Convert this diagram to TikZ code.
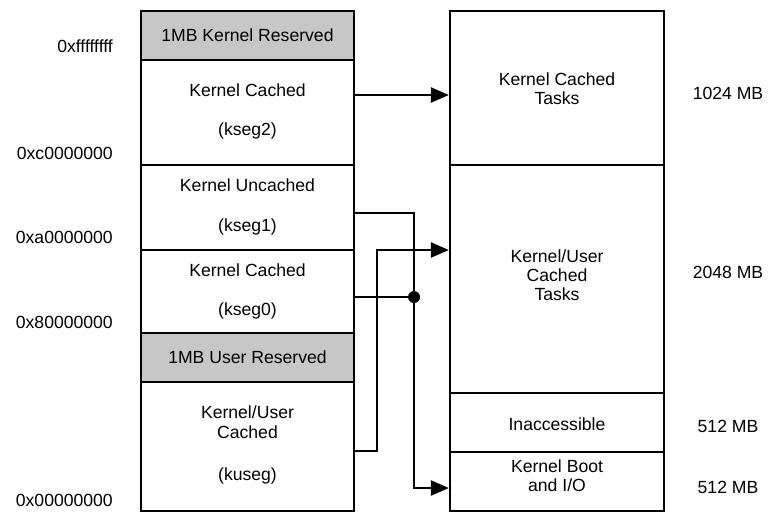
\documentclass[tikz,border=0pt]{standalone}
\usepackage{fontspec}
\setmainfont{Liberation Sans}
\usetikzlibrary{arrows.meta}
\begin{document}
\begin{tikzpicture}[x=1pt,y=-1pt,
  lbox/.style={draw, line width=2.3pt, minimum width=213pt, inner sep=0pt},
  rbox/.style={draw, line width=2.3pt, minimum width=214pt, inner sep=0pt},
  shade/.style={fill=black!22},
  txt/.style={font=\fontsize{17.6}{19}\selectfont, inner sep=0pt, align=center},
  addr/.style={txt, anchor=east},
  conn/.style={line width=2.4pt},
  arr/.style={conn, -{Triangle[length=18pt,width=15pt]}}
]
\useasboundingbox (0,0) rectangle (773,512);
% left column
\node[lbox, shade, minimum height=49pt] (kres) at (247.5,35.5) {};
\node[lbox, minimum height=105pt] (kseg2) at (247.5,112.5) {};
\node[lbox, minimum height=85pt] (kseg1) at (247.5,207.5) {};
\node[lbox, minimum height=83pt] (kseg0) at (247.5,291.5) {};
\node[lbox, shade, minimum height=49pt] (ures) at (247.5,357.5) {};
\node[lbox, minimum height=129pt] (kuseg) at (247.5,446.5) {};
% right column
\node[rbox, minimum height=154pt] (kct) at (557,88) {};
\node[rbox, minimum height=228pt] (kuct) at (557,279) {};
\node[rbox, minimum height=59pt] (inacc) at (557,422.5) {};
\node[rbox, minimum height=59pt] (kboot) at (557,481.5) {};
% left texts
\node[txt] (t1) at (247.5,35) {1MB Kernel Reserved};
\node[txt] (t2) at (247.5,90) {Kernel Cached};
\node[txt] (t3) at (247.5,131) {(kseg2)};
\node[txt] (t4) at (247.5,185) {Kernel Uncached};
\node[txt] (t5) at (247.5,227) {(kseg1)};
\node[txt] (t6) at (247.5,270) {Kernel Cached};
\node[txt] (t7) at (247.5,311) {(kseg0)};
\node[txt] (t8) at (247.5,357) {1MB User Reserved};
\node[txt] (t9) at (247.5,422) {Kernel/User\\[1.5pt]Cached};
\node[txt] (t10) at (247.5,476) {(kuseg)};
% right texts
\node[txt] (r1) at (557,89) {Kernel Cached\\Tasks};
\node[txt] (r2) at (557,275) {Kernel/User\\Cached\\Tasks};
\node[txt] (r3) at (557,424) {Inaccessible};
\node[txt] (r4) at (557,476) {Kernel Boot\\and I/O};
% sizes
\node[txt] (s1) at (728,93) {1024 MB};
\node[txt] (s2) at (728,272) {2048 MB};
\node[txt] (s3) at (728,426) {512 MB};
\node[txt] (s4) at (728,487) {512 MB};
% addresses
\node[addr] (a1) at (113,46) {0xffffffff};
\node[addr] (a2) at (113,153) {0xc0000000};
\node[addr] (a3) at (113,237) {0xa0000000};
\node[addr] (a4) at (113,322) {0x80000000};
\node[addr] (a5) at (113,500) {0x00000000};
% connectors
\coordinate (j) at (414,297);
\draw[arr] (kseg2.east |- 0,95) -- (kct.west |- 0,95);
\draw[arr] (kseg1.east |- 0,213) -| (j |- 0,213) -- (j |- 0,488) -- (kboot.west |- 0,488);
\draw[conn] (kseg0.east |- j) -- (j);
\fill (j) circle (6pt);
\draw[arr] (kuseg.east |- 0,451) -| (377,250) -- (kuct.west |- 0,250);
\end{tikzpicture}
\end{document}
